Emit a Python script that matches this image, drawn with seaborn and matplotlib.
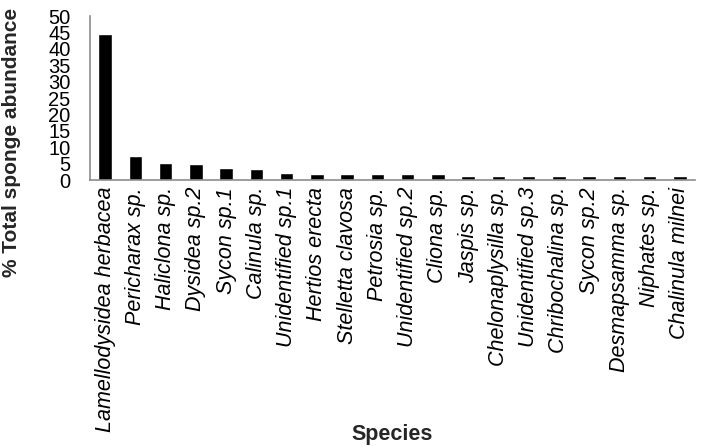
import numpy as np
import pandas as pd
import matplotlib
matplotlib.use("Agg")
import matplotlib.pyplot as plt
import seaborn as sns
from matplotlib.ticker import FixedLocator

# Species and their share of total sponge abundance (%)
species = [
    "Lamellodysidea herbacea", "Pericharax sp.", "Haliclona sp.", "Dysidea sp.2",
    "Sycon sp.1", "Calinula sp.", "Unidentified sp.1", "Hertios erecta",
    "Stelletta clavosa", "Petrosia sp.", "Unidentified sp.2", "Cliona sp.",
    "Jaspis sp.", "Chelonaplysilla sp.", "Unidentified sp.3", "Chribochalina sp.",
    "Sycon sp.2", "Desmapsamma sp.", "Niphates sp.", "Chalinula milnei",
]
abundance = [44.5, 7.4, 5.3, 4.8, 3.75, 3.25, 2.2, 1.7,
             1.7, 1.7, 1.7, 1.7, 1.1, 1.1, 1.1, 1.1,
             1.1, 1.1, 1.1, 1.1]
y_ticks = [0, 5, 10, 15, 20, 25, 30, 35, 40, 45, 50]

df = pd.DataFrame({"species": species, "abundance": abundance})

sns.set_style("white")
plt.rcParams["font.family"] = ["Liberation Sans", "DejaVu Sans"]

fig = plt.figure(figsize=(7.01, 4.47), dpi=100)
ax = fig.add_axes([90 / 701, 1 - 180 / 447, 605 / 701, 164 / 447])

sns.barplot(data=df, x="species", y="abundance", color="black",
            width=0.45, saturation=1, ax=ax)

grey = "#8c8c8c"
ax.set_xlim(-0.5, len(species) - 0.5)
ax.set_ylim(0, 50)
ax.set_yticks(y_ticks)
ax.set_yticklabels([str(t) for t in y_ticks], fontsize=14.5, color="black")

# tick marks sit between categories, labels at the centres
ax.xaxis.set_major_locator(FixedLocator(np.arange(-0.5, len(species), 1.0)))
ax.xaxis.set_minor_locator(FixedLocator(np.arange(len(species))))
ax.set_xticklabels([])
ax.set_xticklabels(species, minor=True, rotation=90, fontsize=15.5,
                   fontstyle="italic", color="black")
ax.tick_params(axis="x", which="major", length=5, width=1, color=grey, direction="out")
ax.tick_params(axis="x", which="minor", length=0, pad=5)
ax.tick_params(axis="y", length=5, width=1, color=grey, direction="out", pad=9)

for side in ["top", "right"]:
    ax.spines[side].set_visible(False)
for side in ["left", "bottom"]:
    ax.spines[side].set_color(grey)
    ax.spines[side].set_linewidth(1.2)

ax.set_xlabel("Species", fontsize=15.5, fontweight="bold")
ax.set_ylabel("% Total sponge abundance", fontsize=15, fontweight="bold")
ax.xaxis.set_label_coords(0.5, -1.49)
ax.yaxis.set_label_coords(-0.114, 0.226)

fig.savefig("out.png", dpi=100)
